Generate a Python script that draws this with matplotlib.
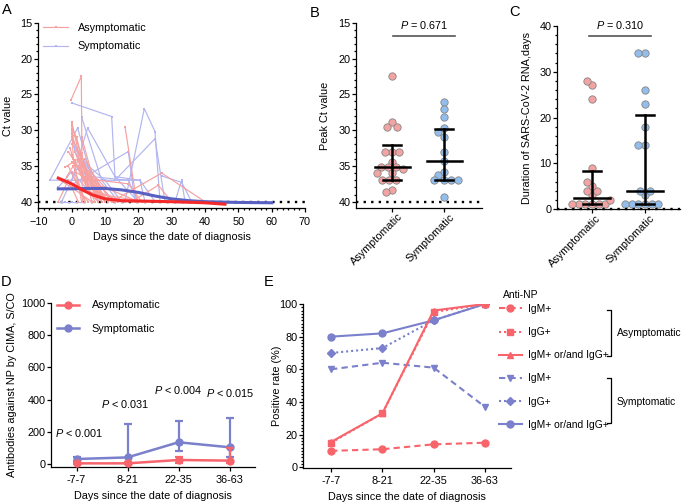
import numpy as np
import matplotlib
matplotlib.use("Agg")
import matplotlib.pyplot as plt
from matplotlib.lines import Line2D
from matplotlib.ticker import MultipleLocator
from matplotlib.transforms import ScaledTranslation

FS = 7.8
FS_E = 7.4
plt.rcParams['font.family'] = ['Liberation Sans', 'DejaVu Sans']
plt.rcParams['font.size'] = FS
plt.rcParams['mathtext.fontset'] = 'custom'
plt.rcParams['mathtext.it'] = 'Liberation Sans:italic'
plt.rcParams['mathtext.rm'] = 'Liberation Sans'
plt.rcParams['axes.linewidth'] = 0.9
for a in ('xtick', 'ytick'):
    plt.rcParams[a + '.major.width'] = 0.9
    plt.rcParams[a + '.minor.width'] = 0.9
    plt.rcParams[a + '.major.size'] = 2.8
    plt.rcParams[a + '.minor.size'] = 1.7
    plt.rcParams[a + '.direction'] = 'out'
    plt.rcParams[a + '.labelsize'] = FS
plt.rcParams['xtick.major.pad'] = 3.2
plt.rcParams['ytick.major.pad'] = 1.2

# ---------------- data ----------------
groups = ["Asymptomatic", "Symptomatic"]

# Panel A: individual trajectories (days since diagnosis, Ct value)
asym_days = [
    [-0.2, 2.9, 3.2], [0, 2, 6, 10], [0, 4, 8], [0, 1.5, 5, 12], [-1, 3, 7],
    [1, 4, 9], [-2, 2, 5, 14], [-3.5, 0, 6], [16, 19.5], [12, 27, 40],
    [18, 26, 30], [0, 7, 13], [2, 8, 11], [-1, 3, 5], [0, 2, 4],
    [1, 6, 9], [3, 6, 10, 20], [-4, -1, 2], [2, 4, 7, 9], [0, 3, 9, 22],
    [-0.5, 1, 7, 11], [4, 7.5, 10], [8, 17, 21], [1, 3, 5, 15], [0, 5, 8],
    [2, 3, 6], [-1.5, 0.5, 4], [5, 9, 12, 46], [0, 0.5, 3], [3, 5, 8],
]
asym_ct = [
    [25.8, 22.5, 40], [28.8, 33.0, 37.0, 40], [29.3, 35.0, 40], [29.8, 31.0, 38.0, 40], [33.0, 36.0, 40],
    [33.0, 37.0, 40], [35.2, 34.0, 38.5, 40], [37.0, 38.0, 40], [29.5, 40], [40, 36.0, 40],
    [40, 37.7, 40], [34.5, 37.0, 40], [34.0, 38.0, 40], [35.0, 39.0, 40], [36.0, 37.5, 40],
    [35.8, 37.2, 40], [31.0, 36.0, 38.0, 40], [40, 37.0, 40], [33.0, 35.0, 37.0, 40], [30.5, 35.0, 39.0, 40],
    [32.5, 34.8, 38.5, 40], [34.0, 37.0, 40], [37.0, 37.5, 40], [34.2, 36.5, 38.0, 40], [33.5, 38.5, 40],
    [35.5, 33.2, 40], [36.5, 35.0, 40], [36.5, 38.0, 40, 40], [29.0, 34.0, 40], [34.8, 36.8, 40],
]
sym_days = [
    [0, 12, 13, 20], [16, 21.8, 25, 26.5], [13, 25, 28], [27, 33, 36], [31, 33, 34],
    [-6.5, 1.8, 8], [0, 4.8, 13, 20.5, 25], [0.5, 17, 19], [0, 3, 12], [0, 1, 6],
    [-4, 0, 8], [-6.5, 0, 7, 13, 20.5, 22], [0, 5, 10, 15], [30, 38, 45, 50, 55, 60],
    [3, 9, 14], [-3, 2, 10], [6, 17, 20], [-4, -2, 0, 4],
]
sym_ct = [
    [26.2, 28.1, 36.5, 40], [40, 27.0, 30.2, 40], [37.0, 31.2, 40], [36.4, 37.3, 40], [40, 37.0, 40],
    [37.0, 29.7, 40], [37.0, 29.7, 36.5, 37.0, 40], [37.5, 33.0, 40], [31.0, 34.0, 40], [30.0, 33.0, 37.0],
    [38.0, 35.8, 40], [37.0, 37.0, 37.0, 37.0, 37.0, 40], [32.0, 35.0, 37.0, 40], [40, 40, 40, 40, 40, 40],
    [28.2, 37.0, 40], [40, 35.0, 40], [36.5, 37.0, 40], [40, 40, 40, 40],
]
# smoothed trends
asym_fit_days = [-4, 0, 3, 6, 10, 15, 20, 30, 40, 46]
asym_fit_ct = [36.7, 37.5, 38.3, 39.0, 39.6, 39.85, 39.9, 40.0, 40.15, 40.35]
sym_fit_days = [-4, 0, 5, 10, 15, 20, 25, 30, 35, 40, 50, 60]
sym_fit_ct = [38.2, 38.2, 38.15, 38.15, 38.35, 38.7, 39.2, 39.6, 39.85, 40.0, 40.1, 40.15]

# Panel B: peak Ct values
peak_ct_asym = [22.5, 28.8, 29.5, 29.5, 33.0, 33.0, 33.0, 34.4, 35.2, 35.2, 35.2, 35.5,
                36.0, 36.0, 36.9, 36.9, 36.9, 38.3, 38.7]
peak_ct_sym = [26.1, 27.1, 28.2, 29.7, 30.2, 31.0, 33.0, 34.3, 35.9, 36.2, 37.0, 37.0,
               37.0, 37.0, 39.3]
peak_ct_median = [35.2, 34.3]
peak_ct_q1 = [32.1, 29.8]
peak_ct_q3 = [37.0, 37.0]
peak_p = "0.671"

# Panel C: duration of RNA (days)
dur_asym = [1, 1, 1, 1, 1, 1, 2, 3, 4, 4, 5, 6, 9, 24, 27, 28]
dur_sym = [1, 1, 1, 1, 1, 1, 3, 4, 4, 14, 14, 18, 23, 26, 34, 34]
dur_median = [2.5, 4.0]
dur_q1 = [1.0, 1.0]
dur_q3 = [8.25, 20.5]
dur_p = "0.310"

# Panel D: antibodies against NP
intervals = ["-7-7", "8-21", "22-35", "36-63"]
ab_asym = [4, 4, 25, 21]
ab_asym_lo = [0, 0, 5, 5]
ab_asym_hi = [12, 15, 45, 97]
ab_sym = [31, 41, 135, 104]
ab_sym_lo = [20, 5, 83, 45]
ab_sym_hi = [45, 248, 270, 284]
ab_p = ["0.001", "0.031", "0.004", "0.015"]

# Panel E: positive rate (%)
asym_igm = [10, 11, 14, 15]
asym_igg = [15, 33, 95, 100]
asym_any = [15.5, 33, 96, 100]
sym_igm = [60, 64, 61, 37]
sym_igg = [70, 73, 90, 100]
sym_any = [80, 82, 90, 100]
e_labels = ["IgM+", "IgG+", "IgM+ or/and IgG+"]

# ---------------- style ----------------
RED_L = '#F7A0A0'
BLUE_L = '#B2B5F0'
RED_D = '#F42A2A'
BLUE_D = '#5860C2'
RED_P = '#F4A3A3'
BLUE_P = '#93BDEB'
RED = '#F8646B'
BLUE = '#7A80CB'
EDGE = '#858585'

W, H = 685, 503
fig = plt.figure(figsize=(W / 100, H / 100), dpi=100)


def rect(l, t, r, b):
    return [l / W, 1 - b / H, (r - l) / W, (b - t) / H]


def fx(px):
    return px / W


def fy(py):
    return 1 - py / H


def clean(ax):
    ax.spines['top'].set_visible(False)
    ax.spines['right'].set_visible(False)


def swarm_x(ax, center, values, diam):
    tr = ax.transData
    pts = tr.transform(np.column_stack([np.full(len(values), center), values]))
    ypx = pts[:, 1]
    x0 = pts[0, 0]
    order = np.argsort(values, kind='stable')
    placed = []
    offs = np.zeros(len(values))
    for i in order:
        y = ypx[i]
        cands = [0.0]
        for xo, yo in placed:
            dy = abs(y - yo)
            if dy < diam:
                dx = np.sqrt(diam ** 2 - dy ** 2)
                cands += [xo - dx, xo + dx]
        cands = sorted(cands, key=lambda c: (abs(c), c))
        for c in cands:
            if all((c - xo) ** 2 + (y - yo) ** 2 >= diam ** 2 - 1e-6 for xo, yo in placed):
                offs[i] = c
                break
        placed.append((offs[i], y))
    inv = tr.inverted()
    return inv.transform(np.column_stack([x0 + offs, ypx]))[:, 0]


def ptxt(val, sym='='):
    return r'$\it{P}$ ' + sym + ' ' + val


def shift_labels(ax, dx, dy):
    off = ScaledTranslation(dx / 100, dy / 100, fig.dpi_scale_trans)
    for lab in ax.get_xticklabels():
        lab.set_transform(lab.get_transform() + off)


# ---------------- Panel A ----------------
axA = fig.add_axes(rect(38.3, 22.7, 305, 208.3))
clean(axA)
axA.axhline(40, color='black', lw=1.7, ls=(0, (1, 2.2)), zorder=1)
for d, c in zip(sym_days, sym_ct):
    axA.plot(d, c, color=BLUE_L, lw=0.85, marker='s', ms=1.7, mew=0, zorder=2)
for d, c in zip(asym_days, asym_ct):
    axA.plot(d, c, color=RED_L, lw=0.85, marker='s', ms=1.7, mew=0, zorder=3)
axA.plot(sym_fit_days, sym_fit_ct, color=BLUE_D, lw=2.2, zorder=4)
axA.plot(asym_fit_days, asym_fit_ct, color=RED_D, lw=2.2, zorder=5)
axA.set_xlim(-10, 70)
axA.set_ylim(40.92, 15)
axA.xaxis.set_major_locator(MultipleLocator(10))
axA.xaxis.set_minor_locator(MultipleLocator(10 / 6))
axA.yaxis.set_major_locator(MultipleLocator(5))
axA.yaxis.set_minor_locator(MultipleLocator(1))
axA.set_xlabel("Days since the date of diagnosis", labelpad=4)
axA.set_ylabel("Ct value")
axA.yaxis.set_label_coords(-0.095, 0.5)
hA = [Line2D([], [], color=RED_L, lw=0.85, marker='s', ms=2, mew=0),
      Line2D([], [], color=BLUE_L, lw=0.85, marker='s', ms=2, mew=0)]
axA.legend(hA, groups, loc='upper left', bbox_to_anchor=(0.018, 0.997), frameon=False,
           borderpad=0, borderaxespad=0, handlelength=2.3, handletextpad=0.9,
           labelspacing=0.75)

# ---------------- Panel B ----------------
axB = fig.add_axes(rect(356, 22.7, 482, 208.3))
clean(axB)
axB.set_xlim(-0.69, 1.72)
axB.set_ylim(40.92, 15)
axB.axhline(40, color='black', lw=1.7, ls=(0, (1, 2.2)), zorder=1)
for i, (vals, col) in enumerate([(peak_ct_asym, RED_P), (peak_ct_sym, BLUE_P)]):
    xs = swarm_x(axB, i, vals, 7.0)
    axB.scatter(xs, vals, s=28, c=col, edgecolors=EDGE, linewidths=0.6, zorder=3)
for i in range(2):
    axB.plot([i - 0.335, i + 0.335], [peak_ct_median[i]] * 2, color='black', lw=1.8, zorder=4)
    axB.plot([i, i], [peak_ct_q1[i], peak_ct_q3[i]], color='black', lw=1.8, zorder=4)
    for v in (peak_ct_q1[i], peak_ct_q3[i]):
        axB.plot([i - 0.17, i + 0.17], [v, v], color='black', lw=1.8, zorder=4)
axB.plot([0.02, 1.2], [16.8, 16.8], color='#555555', lw=1.2, clip_on=False)
axB.text(0.61, 15.35, ptxt(peak_p), ha='center', va='center')
axB.set_xticks([0, 1])
axB.set_xticklabels(groups, rotation=45, ha='right', rotation_mode='anchor')
shift_labels(axB, 5, 5)
axB.yaxis.set_major_locator(MultipleLocator(5))
axB.yaxis.set_minor_locator(MultipleLocator(1))
axB.set_ylabel("Peak Ct value")
axB.yaxis.set_label_coords(-0.206, 0.5)

# ---------------- Panel C ----------------
axC = fig.add_axes(rect(557, 26, 680, 209))
clean(axC)
axC.set_xlim(-0.66, 1.66)
axC.set_ylim(0, 40)
axC.axhline(0, color='black', lw=1.7, ls=(0, (1, 2.2)), zorder=5, clip_on=False)
for i, (vals, col) in enumerate([(dur_asym, RED_P), (dur_sym, BLUE_P)]):
    xs = swarm_x(axC, i, vals, 6.6)
    axC.scatter(xs, vals, s=28, c=col, edgecolors=EDGE, linewidths=0.6, zorder=3, clip_on=False)
for i in range(2):
    axC.plot([i - 0.335, i + 0.335], [dur_median[i]] * 2, color='black', lw=1.8, zorder=4)
    axC.plot([i, i], [dur_q1[i], dur_q3[i]], color='black', lw=1.8, zorder=4)
    for v in (dur_q1[i], dur_q3[i]):
        axC.plot([i - 0.17, i + 0.17], [v, v], color='black', lw=1.8, zorder=4)
axC.plot([-0.05, 1.12], [37.8, 37.8], color='#555555', lw=1.2, clip_on=False)
axC.text(0.535, 40.3, ptxt(dur_p), ha='center', va='center')
axC.set_xticks([0, 1])
axC.set_xticklabels(groups, rotation=45, ha='right', rotation_mode='anchor')
shift_labels(axC, 4, 4)
axC.yaxis.set_major_locator(MultipleLocator(10))
axC.yaxis.set_minor_locator(MultipleLocator(2))
axC.set_ylabel("Duration of SARS-CoV-2 RNA,days")
axC.yaxis.set_label_coords(-0.203, 0.5)

# ---------------- Panel D ----------------
axD = fig.add_axes(rect(51, 303, 255, 467))
clean(axD)
xd = np.arange(len(intervals))
axD.set_xlim(-0.5, 3.5)
axD.set_ylim(-18.6, 1000)
for vals, lo, hi, col, z in [(ab_sym, ab_sym_lo, ab_sym_hi, BLUE, 3),
                             (ab_asym, ab_asym_lo, ab_asym_hi, RED, 4)]:
    vals = np.array(vals)
    err = [vals - np.array(lo), np.array(hi) - vals]
    axD.errorbar(xd, vals, yerr=err, color=col, lw=1.8, marker='o', ms=5,
                 capsize=2.8, capthick=1.6, elinewidth=1.6, zorder=z)
p_pos = [(-0.43, 194, 'left'), (0.96, 372, 'center'), (2.0, 460, 'center'), (3.02, 443, 'center')]
for (px, py, ha), pv in zip(p_pos, ab_p):
    axD.text(px, py, ptxt(pv, '<'), ha=ha, va='center', fontsize=FS)
axD.set_xticks(xd)
axD.set_xticklabels(intervals)
axD.yaxis.set_major_locator(MultipleLocator(200))
axD.set_xlabel("Days since the date of diagnosis", labelpad=4)
axD.set_ylabel("Antibodies against NP by CIMA, S/CO")
axD.yaxis.set_label_coords(-0.167, 0.5)
hD = [Line2D([], [], color=RED, lw=1.8, marker='o', ms=5),
      Line2D([], [], color=BLUE, lw=1.8, marker='o', ms=5)]
axD.legend(hD, groups, loc='upper left', bbox_to_anchor=(0.03, 1.016), frameon=False,
           borderpad=0, borderaxespad=0, handlelength=2.0, handletextpad=1.2,
           labelspacing=1.25)

# ---------------- Panel E ----------------
axE = fig.add_axes(rect(303, 304, 511, 468))
clean(axE)
axE.set_xlim(-0.55, 3.51)
axE.set_ylim(-0.5, 100)
styles = [
    (asym_igm, RED, (0, (3, 2)), 'o', 5),
    (asym_igg, RED, (0, (1, 1.4)), 's', 5),
    (asym_any, RED, '-', '^', 5),
    (sym_igm, BLUE, (0, (3, 2)), 'v', 5),
    (sym_igg, BLUE, (0, (1, 1.4)), 'D', 3.6),
    (sym_any, BLUE, '-', 'o', 5),
]
for k in [3, 4, 5, 0, 1, 2]:
    vals, col, ls, mk, ms = styles[k]
    axE.plot(xd, vals, color=col, ls=ls, lw=1.5, marker=mk, ms=ms, zorder=3 + (k < 3))
hE = [Line2D([], [], color=col, ls=ls, lw=1.5, marker=mk, ms=ms) for vals, col, ls, mk, ms in styles]
axE.set_xticks(xd)
axE.set_xticklabels(intervals)
axE.yaxis.set_major_locator(MultipleLocator(20))
axE.yaxis.set_minor_locator(MultipleLocator(2))
axE.set_xlabel("Days since the date of diagnosis", labelpad=4)
axE.set_ylabel("Positive rate (%)")
axE.yaxis.set_label_coords(-0.101, 0.5)
fig.text(fx(503), fy(295), "Anti-NP", ha='left', va='center', fontsize=FS_E)
axE.legend(hE, e_labels * 2, loc='upper left', bbox_to_anchor=(fx(499), fy(304)),
           bbox_transform=fig.transFigure, frameon=False, borderpad=0, borderaxespad=0,
           handlelength=2.2, handletextpad=0.6, labelspacing=1.28, fontsize=FS_E)
# brackets
for (t, b, ty, name) in [(310, 356, 333, groups[0]), (378, 423, 402, groups[1])]:
    fig.add_artist(Line2D([fx(607), fx(611), fx(611), fx(607)], [fy(t), fy(t), fy(b), fy(b)],
                          color='black', lw=0.9, transform=fig.transFigure))
    fig.text(fx(617), fy(ty), name, ha='left', va='center', fontsize=FS_E)

# panel letters
for lab, px, py in [("A", 7, 10), ("B", 315, 13), ("C", 515, 12), ("D", 6, 282), ("E", 269, 282)]:
    fig.text(fx(px), fy(py), lab, ha='center', va='center', fontsize=10.5)

fig.savefig("out.png", dpi=100)
